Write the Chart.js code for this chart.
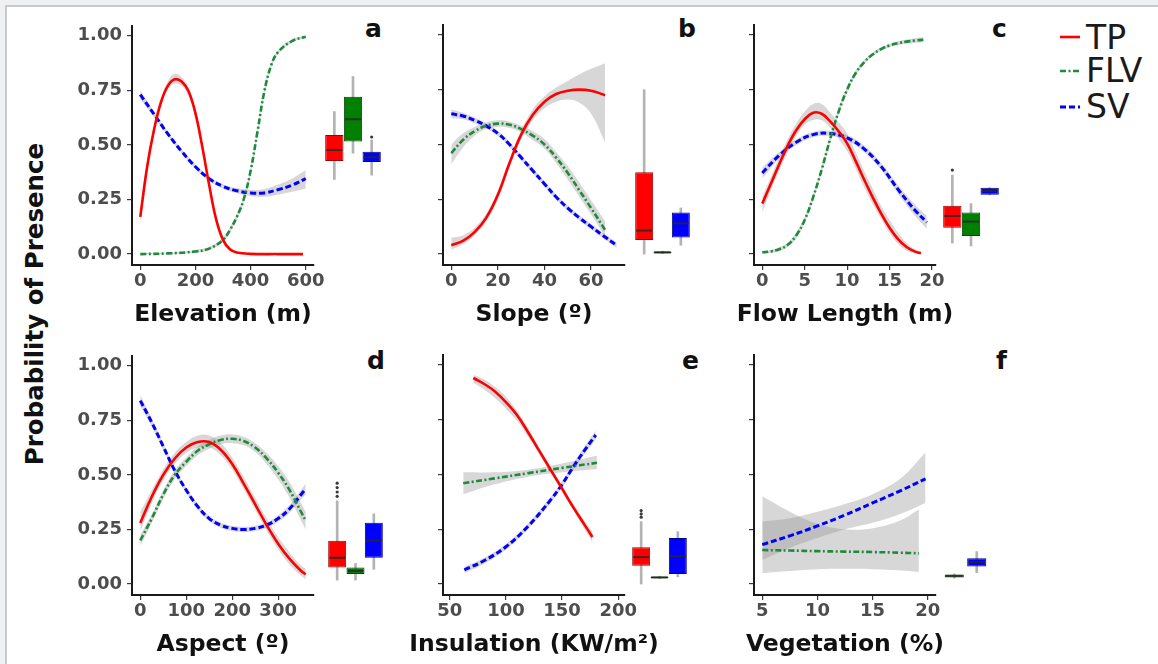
<!DOCTYPE html>
<html lang="en">
<head>
<meta charset="UTF-8">
<title>Probability of Presence</title>
<script src="https://cdn.jsdelivr.net/npm/chart.js"></script>
<style>
  body { margin: 0; background: #eff0f1; width: 1158px; height: 664px; overflow: hidden; position: relative; font-family: 'DejaVu Sans', sans-serif; }
  .card { position: absolute; left: 5px; top: 5px; width: 1300px; height: 800px; background: #fff; border-left: 2px solid #c9c9c9; border-top: 2px solid #c9c9c9; }
  canvas { position: absolute; }
  .ytitle { position: absolute; left: -165px; top: 290px; width: 400px; height: 28px; line-height: 28px; text-align: center; font-weight: bold; font-size: 24.5px; color: #111; transform: rotate(-90deg); }
  .xtitle { position: absolute; width: 320px; height: 30px; line-height: 30px; text-align: center; font-weight: bold; font-size: 23.5px; color: #111; white-space: nowrap; }
  .tag { position: absolute; font-weight: bold; font-size: 25px; line-height: 25px; color: #111; }
  .leg { position: absolute; font-size: 33px; line-height: 33px; color: #1a1a1a; }
  .legsvg { position: absolute; }
</style>
</head>
<body>
<div class="card"></div>
<div class="ytitle">Probability of Presence</div>

<div class="tag" style="left:365px; top:16px">a</div>
<div class="tag" style="left:678px; top:16px">b</div>
<div class="tag" style="left:992px; top:16px">c</div>
<div class="tag" style="left:367px; top:348px">d</div>
<div class="tag" style="left:682px; top:348px">e</div>
<div class="tag" style="left:996px; top:348px">f</div>

<svg class="legsvg" style="left:1058px; top:20px" width="26" height="100">
  <line x1="2" y1="17" x2="22" y2="17" stroke="#ff0000" stroke-width="2.6"/>
  <line x1="2" y1="51" x2="22" y2="51" stroke="#1f8a3b" stroke-width="2.6" stroke-dasharray="6 2.5 2 2.5"/>
  <line x1="2" y1="87" x2="22" y2="87" stroke="#0000ff" stroke-width="3" stroke-dasharray="6 3"/>
</svg>
<div class="leg" style="left:1086px; top:21px">TP</div>
<div class="leg" style="left:1086px; top:54px">FLV</div>
<div class="leg" style="left:1086px; top:90px">SV</div>

<script>
// ---- shared axis values ----
const probTicks = [0, 0.25, 0.5, 0.75, 1];
const boxNames = ['TP', 'FLV', 'SV'];

// ---- a: Elevation ----
const elevTicks = [0, 200, 400, 600];
const elevTpX = [0, 25, 50, 75, 100, 125, 150, 175, 200, 225, 250, 275, 300, 325, 350, 400, 500, 590];
const elevTpY = [0.17, 0.40, 0.57, 0.695, 0.77, 0.80, 0.79, 0.745, 0.645, 0.49, 0.315, 0.16, 0.065, 0.022, 0.007, 0.001, 0, 0];
const elevTpLo = [0.13, 0.37, 0.55, 0.68, 0.755, 0.78, 0.77, 0.725, 0.625, 0.47, 0.298, 0.148, 0.056, 0.016, 0.004, 0, 0, 0];
const elevTpHi = [0.21, 0.43, 0.59, 0.71, 0.79, 0.825, 0.81, 0.765, 0.665, 0.51, 0.332, 0.172, 0.074, 0.028, 0.01, 0.002, 0.001, 0.001];
const elevFlvX = [0, 100, 200, 250, 300, 325, 350, 375, 400, 425, 450, 475, 500, 550, 600];
const elevFlvY = [0.0, 0.003, 0.012, 0.025, 0.065, 0.11, 0.17, 0.25, 0.38, 0.56, 0.745, 0.865, 0.925, 0.975, 0.995];
const elevFlvLo = [0, 0, 0.006, 0.017, 0.055, 0.098, 0.157, 0.236, 0.365, 0.545, 0.731, 0.855, 0.916, 0.968, 0.99];
const elevFlvHi = [0.004, 0.007, 0.018, 0.033, 0.075, 0.122, 0.183, 0.264, 0.395, 0.575, 0.759, 0.875, 0.934, 0.982, 0.999];
const elevSvX = [0, 50, 100, 150, 200, 250, 300, 350, 400, 450, 500, 550, 600];
const elevSvY = [0.73, 0.64, 0.55, 0.47, 0.40, 0.345, 0.31, 0.29, 0.28, 0.28, 0.295, 0.315, 0.345];
const elevSvLo = [0.71, 0.627, 0.54, 0.46, 0.39, 0.335, 0.30, 0.278, 0.266, 0.262, 0.272, 0.285, 0.30];
const elevSvHi = [0.75, 0.653, 0.56, 0.48, 0.41, 0.355, 0.32, 0.302, 0.294, 0.298, 0.318, 0.345, 0.385];
const elevBoxLo = [0.34, 0.46, 0.36];
const elevBoxQ1 = [0.425, 0.513, 0.42];
const elevBoxMed = [0.475, 0.615, 0.442];
const elevBoxQ3 = [0.543, 0.718, 0.467];
const elevBoxHi = [0.65, 0.81, 0.52];
const elevOut = [[], [], [0.534]];

// ---- b: Slope ----
const slopeTicks = [0, 20, 40, 60];
const slopeTpX = [0, 5, 10, 15, 20, 25, 30, 35, 40, 45, 50, 55, 60, 66];
const slopeTpY = [0.04, 0.06, 0.10, 0.165, 0.27, 0.415, 0.545, 0.635, 0.695, 0.73, 0.745, 0.75, 0.745, 0.725];
const slopeTpLo = [0.02, 0.045, 0.085, 0.15, 0.25, 0.395, 0.525, 0.61, 0.665, 0.695, 0.705, 0.69, 0.64, 0.51];
const slopeTpHi = [0.075, 0.085, 0.12, 0.185, 0.29, 0.435, 0.565, 0.66, 0.72, 0.76, 0.79, 0.82, 0.845, 0.87];
const slopeFlvX = [0, 5, 10, 15, 20, 25, 30, 35, 40, 45, 50, 55, 60, 66];
const slopeFlvY = [0.46, 0.52, 0.56, 0.585, 0.595, 0.59, 0.57, 0.54, 0.50, 0.44, 0.37, 0.29, 0.21, 0.11];
const slopeFlvLo = [0.41, 0.485, 0.54, 0.57, 0.58, 0.575, 0.555, 0.52, 0.48, 0.415, 0.34, 0.26, 0.18, 0.08];
const slopeFlvHi = [0.50, 0.55, 0.58, 0.60, 0.61, 0.605, 0.585, 0.56, 0.525, 0.465, 0.40, 0.325, 0.245, 0.15];
const slopeSvX = [0, 5, 10, 15, 20, 25, 30, 35, 40, 45, 50, 55, 60, 65, 71];
const slopeSvY = [0.64, 0.63, 0.61, 0.585, 0.55, 0.50, 0.44, 0.38, 0.32, 0.26, 0.21, 0.165, 0.125, 0.085, 0.04];
const slopeSvLo = [0.62, 0.615, 0.597, 0.573, 0.538, 0.488, 0.428, 0.368, 0.308, 0.248, 0.198, 0.153, 0.113, 0.073, 0.028];
const slopeSvHi = [0.66, 0.645, 0.623, 0.597, 0.562, 0.512, 0.452, 0.392, 0.332, 0.272, 0.222, 0.177, 0.137, 0.097, 0.052];
const slopeBoxLo = [0.0, 0.002, 0.04];
const slopeBoxQ1 = [0.064, 0.003, 0.076];
const slopeBoxMed = [0.107, 0.008, 0.14];
const slopeBoxQ3 = [0.373, 0.012, 0.19];
const slopeBoxHi = [0.75, 0.013, 0.21];
const slopeOut = [[], [], []];

// ---- c: Flow length ----
const flowTicks = [0, 5, 10, 15, 20];
const flowTpX = [0, 1, 2, 3, 4, 5, 6, 7, 8, 9, 10, 11, 12, 13, 14, 15, 16, 17, 18, 18.7];
const flowTpY = [0.23, 0.32, 0.41, 0.495, 0.565, 0.615, 0.645, 0.64, 0.605, 0.56, 0.505, 0.425, 0.34, 0.26, 0.185, 0.12, 0.068, 0.032, 0.011, 0.004];
const flowTpLo = [0.19, 0.29, 0.38, 0.465, 0.54, 0.59, 0.612, 0.61, 0.575, 0.525, 0.47, 0.39, 0.305, 0.23, 0.16, 0.097, 0.047, 0.016, 0.004, 0];
const flowTpHi = [0.26, 0.35, 0.44, 0.525, 0.595, 0.65, 0.685, 0.685, 0.645, 0.60, 0.55, 0.465, 0.38, 0.30, 0.22, 0.155, 0.097, 0.052, 0.022, 0.011];
const flowFlvX = [0, 1, 2, 3, 4, 5, 6, 7, 8, 9, 10, 11, 12, 13, 14, 15, 16, 17, 18, 19];
const flowFlvY = [0.008, 0.012, 0.022, 0.042, 0.085, 0.155, 0.26, 0.385, 0.525, 0.65, 0.75, 0.825, 0.875, 0.91, 0.935, 0.952, 0.962, 0.969, 0.974, 0.978];
const flowFlvLo = [0.002, 0.005, 0.013, 0.032, 0.073, 0.142, 0.246, 0.371, 0.511, 0.637, 0.738, 0.815, 0.866, 0.902, 0.927, 0.944, 0.953, 0.959, 0.963, 0.966];
const flowFlvHi = [0.014, 0.019, 0.031, 0.052, 0.097, 0.168, 0.274, 0.399, 0.539, 0.663, 0.762, 0.835, 0.884, 0.918, 0.943, 0.96, 0.971, 0.979, 0.985, 0.99];
const flowSvX = [0, 2, 4, 6, 8, 10, 12, 14, 16, 18, 19.4];
const flowSvY = [0.37, 0.45, 0.51, 0.545, 0.55, 0.53, 0.48, 0.40, 0.295, 0.20, 0.145];
const flowSvLo = [0.345, 0.435, 0.497, 0.533, 0.538, 0.517, 0.465, 0.383, 0.275, 0.175, 0.115];
const flowSvHi = [0.395, 0.465, 0.523, 0.557, 0.562, 0.543, 0.495, 0.417, 0.315, 0.225, 0.175];
const flowBoxLo = [0.05, 0.037, 0.27];
const flowBoxQ1 = [0.12, 0.082, 0.27];
const flowBoxMed = [0.174, 0.148, 0.288];
const flowBoxQ3 = [0.22, 0.189, 0.303];
const flowBoxHi = [0.36, 0.23, 0.303];
const flowOut = [[0.383], [], []];

// ---- d: Aspect ----
const aspTicks = [0, 100, 200, 300];
const aspX = [0, 25, 50, 75, 100, 125, 150, 175, 200, 225, 250, 275, 300, 325, 350, 360];
const aspTpY = [0.28, 0.40, 0.50, 0.575, 0.625, 0.65, 0.65, 0.615, 0.55, 0.46, 0.365, 0.27, 0.185, 0.115, 0.06, 0.045];
const aspTpLo = [0.24, 0.37, 0.475, 0.55, 0.60, 0.625, 0.625, 0.59, 0.525, 0.435, 0.34, 0.245, 0.16, 0.09, 0.038, 0.022];
const aspTpHi = [0.33, 0.43, 0.525, 0.60, 0.65, 0.68, 0.68, 0.645, 0.58, 0.49, 0.395, 0.30, 0.215, 0.145, 0.085, 0.07];
const aspFlvY = [0.20, 0.30, 0.41, 0.50, 0.56, 0.61, 0.64, 0.66, 0.665, 0.655, 0.625, 0.575, 0.51, 0.43, 0.33, 0.29];
const aspFlvLo = [0.175, 0.28, 0.39, 0.48, 0.54, 0.59, 0.62, 0.64, 0.645, 0.635, 0.605, 0.55, 0.48, 0.395, 0.29, 0.25];
const aspFlvHi = [0.225, 0.32, 0.43, 0.52, 0.58, 0.63, 0.66, 0.68, 0.685, 0.675, 0.645, 0.60, 0.54, 0.465, 0.37, 0.33];
const aspSvY = [0.84, 0.74, 0.63, 0.52, 0.43, 0.355, 0.30, 0.27, 0.255, 0.25, 0.255, 0.27, 0.30, 0.345, 0.41, 0.435];
const aspSvLo = [0.815, 0.722, 0.615, 0.507, 0.418, 0.343, 0.288, 0.258, 0.243, 0.238, 0.243, 0.257, 0.285, 0.327, 0.388, 0.41];
const aspSvHi = [0.865, 0.758, 0.645, 0.533, 0.442, 0.367, 0.312, 0.282, 0.267, 0.262, 0.267, 0.283, 0.315, 0.363, 0.432, 0.46];
const aspBoxLo = [0.018, 0.018, 0.067];
const aspBoxQ1 = [0.075, 0.046, 0.12];
const aspBoxMed = [0.12, 0.06, 0.198];
const aspBoxQ3 = [0.198, 0.075, 0.28];
const aspBoxHi = [0.38, 0.094, 0.32];
const aspOut = [[0.40, 0.42, 0.44, 0.46], [], []];

// ---- e: Insulation ----
const insTicks = [50, 100, 150, 200];
const insTpX = [71, 80, 90, 100, 110, 120, 130, 140, 150, 160, 170, 177];
const insTpY = [0.94, 0.915, 0.88, 0.83, 0.77, 0.69, 0.605, 0.52, 0.435, 0.35, 0.27, 0.215];
const insTpLo = [0.92, 0.89, 0.85, 0.80, 0.745, 0.67, 0.59, 0.505, 0.42, 0.335, 0.25, 0.19];
const insTpHi = [0.955, 0.935, 0.90, 0.855, 0.79, 0.71, 0.62, 0.535, 0.45, 0.365, 0.29, 0.24];
const insFlvX = [62, 90, 120, 150, 181];
const insFlvY = [0.46, 0.482, 0.506, 0.53, 0.553];
const insFlvLo = [0.41, 0.455, 0.49, 0.51, 0.525];
const insFlvHi = [0.51, 0.51, 0.522, 0.55, 0.585];
const insSvX = [63, 80, 100, 120, 140, 150, 160, 170, 180];
const insSvY = [0.065, 0.105, 0.17, 0.265, 0.385, 0.455, 0.535, 0.61, 0.68];
const insSvLo = [0.05, 0.092, 0.157, 0.252, 0.371, 0.44, 0.519, 0.592, 0.66];
const insSvHi = [0.08, 0.118, 0.183, 0.278, 0.399, 0.47, 0.551, 0.628, 0.70];
const insBoxLo = [0.0, 0.025, 0.033];
const insBoxQ1 = [0.084, 0.026, 0.046];
const insBoxMed = [0.123, 0.03, 0.127];
const insBoxQ3 = [0.168, 0.034, 0.21];
const insBoxHi = [0.285, 0.036, 0.239];
const insOut = [[0.305, 0.32, 0.335], [], []];

// ---- f: Vegetation (no TP) ----
const vegTicks = [5, 10, 15, 20];
const vegFlvX = [5, 7.5, 10, 12.5, 15, 17.5, 19.2];
const vegFlvY = [0.155, 0.153, 0.15, 0.148, 0.146, 0.143, 0.14];
const vegFlvLo = [0.05, 0.06, 0.068, 0.07, 0.068, 0.062, 0.056];
const vegFlvHi = [0.40, 0.33, 0.275, 0.25, 0.255, 0.29, 0.34];
const vegSvX = [5, 7.5, 10, 12.5, 15, 17.5, 19.8];
const vegSvY = [0.18, 0.22, 0.265, 0.315, 0.37, 0.425, 0.48];
const vegSvLo = [0.11, 0.165, 0.21, 0.25, 0.28, 0.32, 0.37];
const vegSvHi = [0.285, 0.30, 0.33, 0.365, 0.41, 0.48, 0.60];
const vegBoxNames = ['FLV', 'SV'];
const vegBoxLo = [0.027, 0.052];
const vegBoxQ1 = [0.03, 0.08];
const vegBoxMed = [0.037, 0.10];
const vegBoxQ3 = [0.044, 0.118];
const vegBoxHi = [0.046, 0.148];
const vegOut = [[], []];

// ---- styling ----
const style = {
  TP:  { line: '#ff0000', width: 2.6, dash: [],               fill: '#ff0000', edge: '#9a0000' },
  FLV: { line: '#1f8a3b', width: 2.6, dash: [6, 2.5, 2, 2.5], fill: '#008000', edge: '#004400' },
  SV:  { line: '#0000ff', width: 3,   dash: [6, 3],           fill: '#0000ff', edge: '#000088' }
};
const bandColor = 'rgba(150,150,150,0.38)';
const FONT = 'DejaVu Sans';

const panels = [
  { axisX: 132, top: 25, title: 'Elevation (m)', min: -30, max: 630, ticks: elevTicks, yLabels: true,
    series: [['TP', elevTpX, elevTpY, elevTpLo, elevTpHi], ['FLV', elevFlvX, elevFlvY, elevFlvLo, elevFlvHi], ['SV', elevSvX, elevSvY, elevSvLo, elevSvHi]],
    box: { left: 325, width: 56, names: boxNames, lo: elevBoxLo, q1: elevBoxQ1, med: elevBoxMed, q3: elevBoxQ3, hi: elevBoxHi, out: elevOut } },
  { axisX: 443, top: 25, title: 'Slope (º)', min: -3.55, max: 74.55, ticks: slopeTicks, yLabels: false,
    series: [['TP', slopeTpX, slopeTpY, slopeTpLo, slopeTpHi], ['FLV', slopeFlvX, slopeFlvY, slopeFlvLo, slopeFlvHi], ['SV', slopeSvX, slopeSvY, slopeSvLo, slopeSvHi]],
    box: { left: 635, width: 55, names: boxNames, lo: slopeBoxLo, q1: slopeBoxQ1, med: slopeBoxMed, q3: slopeBoxQ3, hi: slopeBoxHi, out: slopeOut } },
  { axisX: 754, top: 25, title: 'Flow Length (m)', min: -0.975, max: 20.475, ticks: flowTicks, yLabels: false,
    series: [['TP', flowTpX, flowTpY, flowTpLo, flowTpHi], ['FLV', flowFlvX, flowFlvY, flowFlvLo, flowFlvHi], ['SV', flowSvX, flowSvY, flowSvLo, flowSvHi]],
    box: { left: 943, width: 56, names: boxNames, lo: flowBoxLo, q1: flowBoxQ1, med: flowBoxMed, q3: flowBoxQ3, hi: flowBoxHi, out: flowOut } },
  { axisX: 132, top: 355, title: 'Aspect (º)', min: -18, max: 378, ticks: aspTicks, yLabels: true,
    series: [['TP', aspX, aspTpY, aspTpLo, aspTpHi], ['FLV', aspX, aspFlvY, aspFlvLo, aspFlvHi], ['SV', aspX, aspSvY, aspSvLo, aspSvHi]],
    box: { left: 328, width: 55, names: boxNames, lo: aspBoxLo, q1: aspBoxQ1, med: aspBoxMed, q3: aspBoxQ3, hi: aspBoxHi, out: aspOut } },
  { axisX: 443, top: 355, title: 'Insulation (KW/m²)', min: 44, max: 206, ticks: insTicks, yLabels: false,
    series: [['TP', insTpX, insTpY, insTpLo, insTpHi], ['FLV', insFlvX, insFlvY, insFlvLo, insFlvHi], ['SV', insSvX, insSvY, insSvLo, insSvHi]],
    box: { left: 632, width: 55, names: boxNames, lo: insBoxLo, q1: insBoxQ1, med: insBoxMed, q3: insBoxQ3, hi: insBoxHi, out: insOut } },
  { axisX: 754, top: 355, title: 'Vegetation (%)', min: 4.25, max: 20.75, ticks: vegTicks, yLabels: false,
    series: [['FLV', vegFlvX, vegFlvY, vegFlvLo, vegFlvHi], ['SV', vegSvX, vegSvY, vegSvLo, vegSvHi]],
    box: { left: 943, width: 45, names: vegBoxNames, lo: vegBoxLo, q1: vegBoxQ1, med: vegBoxMed, q3: vegBoxQ3, hi: vegBoxHi, out: vegOut } }
];

const Y_MIN = -0.05, Y_MAX = 1.045;
const PLOT_W = 182, PLOT_H = 240, LEFT_GUTTER = 75, TOP_PAD = 15, RIGHT_PAD = 30, X_AXIS_H = 40;

function pts(xs, ys) {
  return xs.map((x, i) => ({ x: x, y: ys[i] }));
}

function makeCanvas(left, top, w, h) {
  const c = document.createElement('canvas');
  c.width = w; c.height = h;
  c.style.left = left + 'px'; c.style.top = top + 'px';
  c.style.width = w + 'px'; c.style.height = h + 'px';
  document.body.appendChild(c);
  return c;
}

function addTitle(p) {
  const d = document.createElement('div');
  d.className = 'xtitle';
  d.textContent = p.title;
  d.style.left = (p.axisX + PLOT_W / 2 - 160) + 'px';
  d.style.top = (p.top + PLOT_H + 48 - 15) + 'px';
  document.body.appendChild(d);
}

function drawCurves(p) {
  const lines = [], bands = [];
  p.series.forEach(([name, xs, ys, lo, hi]) => {
    const s = style[name];
    lines.push({
      label: name, data: pts(xs, ys), borderColor: s.line, borderWidth: s.width, borderDash: s.dash,
      pointRadius: 0, fill: false, tension: 0.4
    });
    bands.push({
      data: pts(xs, hi), borderColor: 'transparent', borderWidth: 0, pointRadius: 0,
      fill: '+1', backgroundColor: bandColor, tension: 0.4
    });
    bands.push({
      data: pts(xs, lo), borderColor: 'transparent', borderWidth: 0, pointRadius: 0,
      fill: false, tension: 0.4
    });
  });

  const canvas = makeCanvas(p.axisX - LEFT_GUTTER, p.top - TOP_PAD,
    LEFT_GUTTER + PLOT_W + RIGHT_PAD, TOP_PAD + PLOT_H + X_AXIS_H);

  const tickFont = { family: FONT, size: 18, weight: 'bold' };
  const gridOpts = { display: true, drawOnChartArea: false, drawTicks: true, tickLength: 5, color: '#3a3a3a', lineWidth: 1.2 };
  const borderOpts = { display: true, color: '#1a1a1a', width: 2 };

  new Chart(canvas, {
    type: 'line',
    data: { datasets: lines.concat(bands) },
    options: {
      responsive: false, animation: false, devicePixelRatio: 1,
      layout: { autoPadding: false, padding: { left: 0, top: TOP_PAD, right: RIGHT_PAD, bottom: 0 } },
      plugins: { legend: { display: false }, tooltip: { enabled: false }, filler: { drawTime: 'beforeDatasetsDraw' } },
      scales: {
        x: {
          type: 'linear', min: p.min, max: p.max,
          afterBuildTicks: s => { s.ticks = p.ticks.map(v => ({ value: v })); },
          afterFit: s => { s.height = X_AXIS_H; },
          ticks: { font: tickFont, color: '#4d4d4d', padding: 1, maxRotation: 0 },
          grid: gridOpts, border: borderOpts
        },
        y: {
          type: 'linear', min: Y_MIN, max: Y_MAX,
          afterBuildTicks: s => { s.ticks = probTicks.map(v => ({ value: v })); },
          afterFit: s => { s.width = LEFT_GUTTER; },
          ticks: { display: p.yLabels, font: tickFont, color: '#4d4d4d', padding: 5, callback: v => v.toFixed(2) },
          grid: gridOpts, border: borderOpts
        }
      }
    }
  });
  addTitle(p);
}

function drawBoxes(p) {
  const b = p.box;
  const names = b.names;
  const fills = names.map(n => style[n].fill);
  const edges = names.map(n => style[n].edge);
  const outliers = [];
  b.out.forEach((list, i) => list.forEach(v => outliers.push({ x: names[i], y: v })));
  const catW = b.width / names.length;
  const barPct = names.length === 2 ? 0.85 : 0.98;

  const canvas = makeCanvas(b.left, p.top, b.width, PLOT_H);
  new Chart(canvas, {
    type: 'bar',
    data: {
      labels: names,
      datasets: [
        // outliers
        { type: 'line', data: outliers, showLine: false, pointRadius: 1.6, pointBackgroundColor: '#3a3a3a', pointBorderWidth: 0 },
        // medians, drawn as horizontal line markers across the box
        { type: 'line', data: names.map((n, i) => ({ x: n, y: b.med[i] })), showLine: false,
          pointStyle: 'line', pointRadius: catW * barPct / 2 - 1, pointBorderWidth: 2, pointBorderColor: 'rgba(40,40,40,0.85)' },
        // boxes (Q1..Q3)
        { data: names.map((_, i) => [b.q1[i], b.q3[i]]), backgroundColor: fills, borderColor: edges, borderWidth: 1,
          borderSkipped: false, grouped: false, barPercentage: barPct, categoryPercentage: 1 },
        // whiskers
        { data: names.map((_, i) => [b.lo[i], b.hi[i]]), backgroundColor: '#b3b3b3', borderWidth: 0, barThickness: 2, grouped: false }
      ]
    },
    options: {
      responsive: false, animation: false, devicePixelRatio: 1,
      layout: { autoPadding: false, padding: 0 },
      plugins: { legend: { display: false }, tooltip: { enabled: false } },
      scales: {
        x: { type: 'category', display: false, offset: true },
        y: { type: 'linear', display: false, min: Y_MIN, max: Y_MAX }
      }
    }
  });
}

panels.forEach(p => { drawCurves(p); drawBoxes(p); });
</script>
</body>
</html>
